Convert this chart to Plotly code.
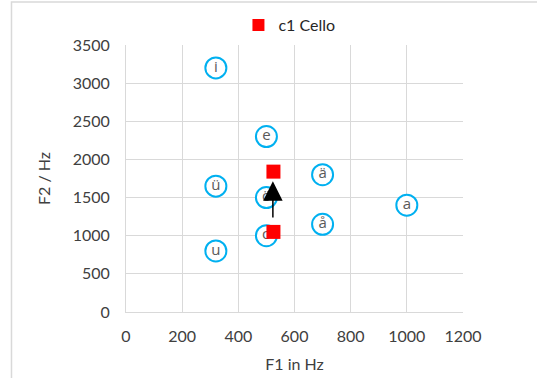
import plotly.graph_objects as go

# Vowel formant reference positions (F1, F2 in Hz)
vowels = ["i", "e", "ü", "ö", "o", "u", "ä", "å", "a"]
vowel_f1 = [320, 500, 320, 500, 500, 320, 700, 700, 1000]
vowel_f2 = [3200, 2300, 1650, 1500, 1000, 800, 1800, 1150, 1400]

# Cello c1 formant measurements
cello_f1 = [525, 525]
cello_f2 = [1840, 1050]

# Arrow showing the shift between the two cello points
arrow_f1 = 523
arrow_from_f2 = 1220
arrow_to_f2 = 1715

x_ticks = [0, 200, 400, 600, 800, 1000, 1200]
y_ticks = [0, 500, 1000, 1500, 2000, 2500, 3000, 3500]

fig = go.Figure()

fig.add_trace(go.Scatter(
    x=vowel_f1, y=vowel_f2, text=vowels,
    mode="markers+text", textposition="middle center",
    marker=dict(symbol="circle", size=21, color="white",
                line=dict(color="#00B0F0", width=2)),
    textfont=dict(family="Open Sans", size=15, color="#595959"),
    showlegend=False, hoverinfo="skip",
))

fig.add_trace(go.Scatter(
    x=cello_f1, y=cello_f2, mode="markers", name="c1 Cello",
    marker=dict(symbol="square", size=14, color="#FF0000"),
))

fig.add_annotation(
    x=arrow_f1, y=arrow_to_f2, ax=arrow_f1, ay=arrow_from_f2,
    xref="x", yref="y", axref="x", ayref="y",
    text="", showarrow=True, arrowhead=2, arrowsize=2.6,
    arrowwidth=1.5, arrowcolor="black",
)

# Light outer frame around the chart area
fig.add_shape(type="rect", xref="paper", yref="paper",
              x0=-0.3398, x1=1.3, y0=-0.4, y1=1.161,
              line=dict(color="#D9D9D9", width=1.5), layer="below")

font_family = "Lato"
tick_color = "#404040"
fig.update_layout(
    width=537, height=378,
    margin=dict(l=126, r=74, t=45, b=66, autoexpand=False),
    paper_bgcolor="white", plot_bgcolor="white",
    font=dict(family=font_family, size=16, color=tick_color),
    legend=dict(orientation="h", x=0.485, xanchor="center", y=1.075,
                yanchor="middle", font=dict(size=16, color="#262626"),
                itemwidth=30, itemsizing="constant",
                bgcolor="rgba(0,0,0,0)"),
    xaxis=dict(range=[0, 1200], tickvals=x_ticks, showgrid=True,
               gridcolor="#D9D9D9", gridwidth=1, zeroline=False,
               showline=True, linecolor="#D9D9D9", mirror=False,
               ticks="outside", ticklen=10, tickcolor="rgba(0,0,0,0)",
               tickfont=dict(size=16, color=tick_color),
               title=dict(text="F1 in Hz", standoff=14,
                          font=dict(size=16, color=tick_color))),
    yaxis=dict(range=[0, 3500], tickvals=y_ticks, showgrid=True,
               gridcolor="#D9D9D9", gridwidth=1, zeroline=False,
               showline=True, linecolor="#D9D9D9",
               ticks="outside", ticklen=12, tickcolor="rgba(0,0,0,0)",
               tickfont=dict(size=16, color=tick_color),
               title=dict(text="F2 / Hz", standoff=18,
                          font=dict(size=16, color=tick_color))),
)

fig.write_html("out.html")
